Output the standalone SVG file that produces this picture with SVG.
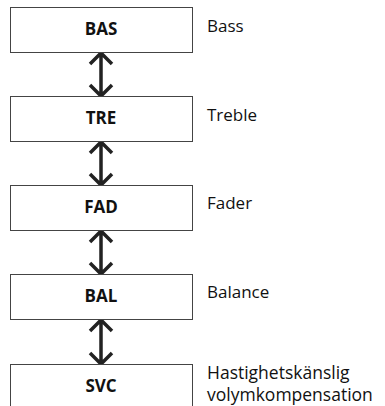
<svg xmlns="http://www.w3.org/2000/svg" width="385" height="406" viewBox="0 0 385 406">
<defs>
<style>
.box{fill:#fff;stroke:#444;stroke-width:1}
.code{font-family:"Open Sans","Noto Sans",sans-serif;font-weight:bold;font-size:17px;fill:#111;text-anchor:middle}
.lbl{font-family:"Open Sans","Noto Sans",sans-serif;font-size:17px;fill:#111}
.svcl{font-family:"Open Sans","Noto Sans",sans-serif;font-size:17.5px;fill:#111}
.arr{fill:none;stroke:#222;stroke-width:3.5}
</style>
</defs>
<rect width="385" height="406" fill="#fff"/>
<g id="connectors">
<path class="arr" d="M101,53V96M90,64L101,53L112,64M90,85L101,96L112,85"/>
<path class="arr" d="M101,142V185M90,153L101,142L112,153M90,174L101,185L112,174"/>
<path class="arr" d="M101,231V274M90,242L101,231L112,242M90,263L101,274L112,263"/>
<path class="arr" d="M101,320V364M90,331L101,320L112,331M90,353L101,364L112,353"/>
</g>
<g id="bas"><rect class="box" x="10.5" y="7.5" width="182" height="45"/><text class="code" x="101" y="35">BAS</text><text class="lbl" x="207" y="32">Bass</text></g>
<g id="tre"><rect class="box" x="10.5" y="96.5" width="182" height="45"/><text class="code" x="101" y="124">TRE</text><text class="lbl" x="207" y="121">Treble</text></g>
<g id="fad"><rect class="box" x="10.5" y="185.5" width="182" height="45"/><text class="code" x="101" y="213">FAD</text><text class="lbl" x="207" y="209">Fader</text></g>
<g id="bal"><rect class="box" x="10.5" y="274.5" width="182" height="45"/><text class="code" x="101" y="302">BAL</text><text class="lbl" x="207" y="298">Balance</text></g>
<g id="svc"><rect class="box" x="10.5" y="364.5" width="182" height="45"/><text class="code" x="101" y="392">SVC</text><text class="svcl" x="207" y="379">Hastighetskänslig</text><text class="svcl" x="207" y="401">volymkompensation</text></g>
</svg>
